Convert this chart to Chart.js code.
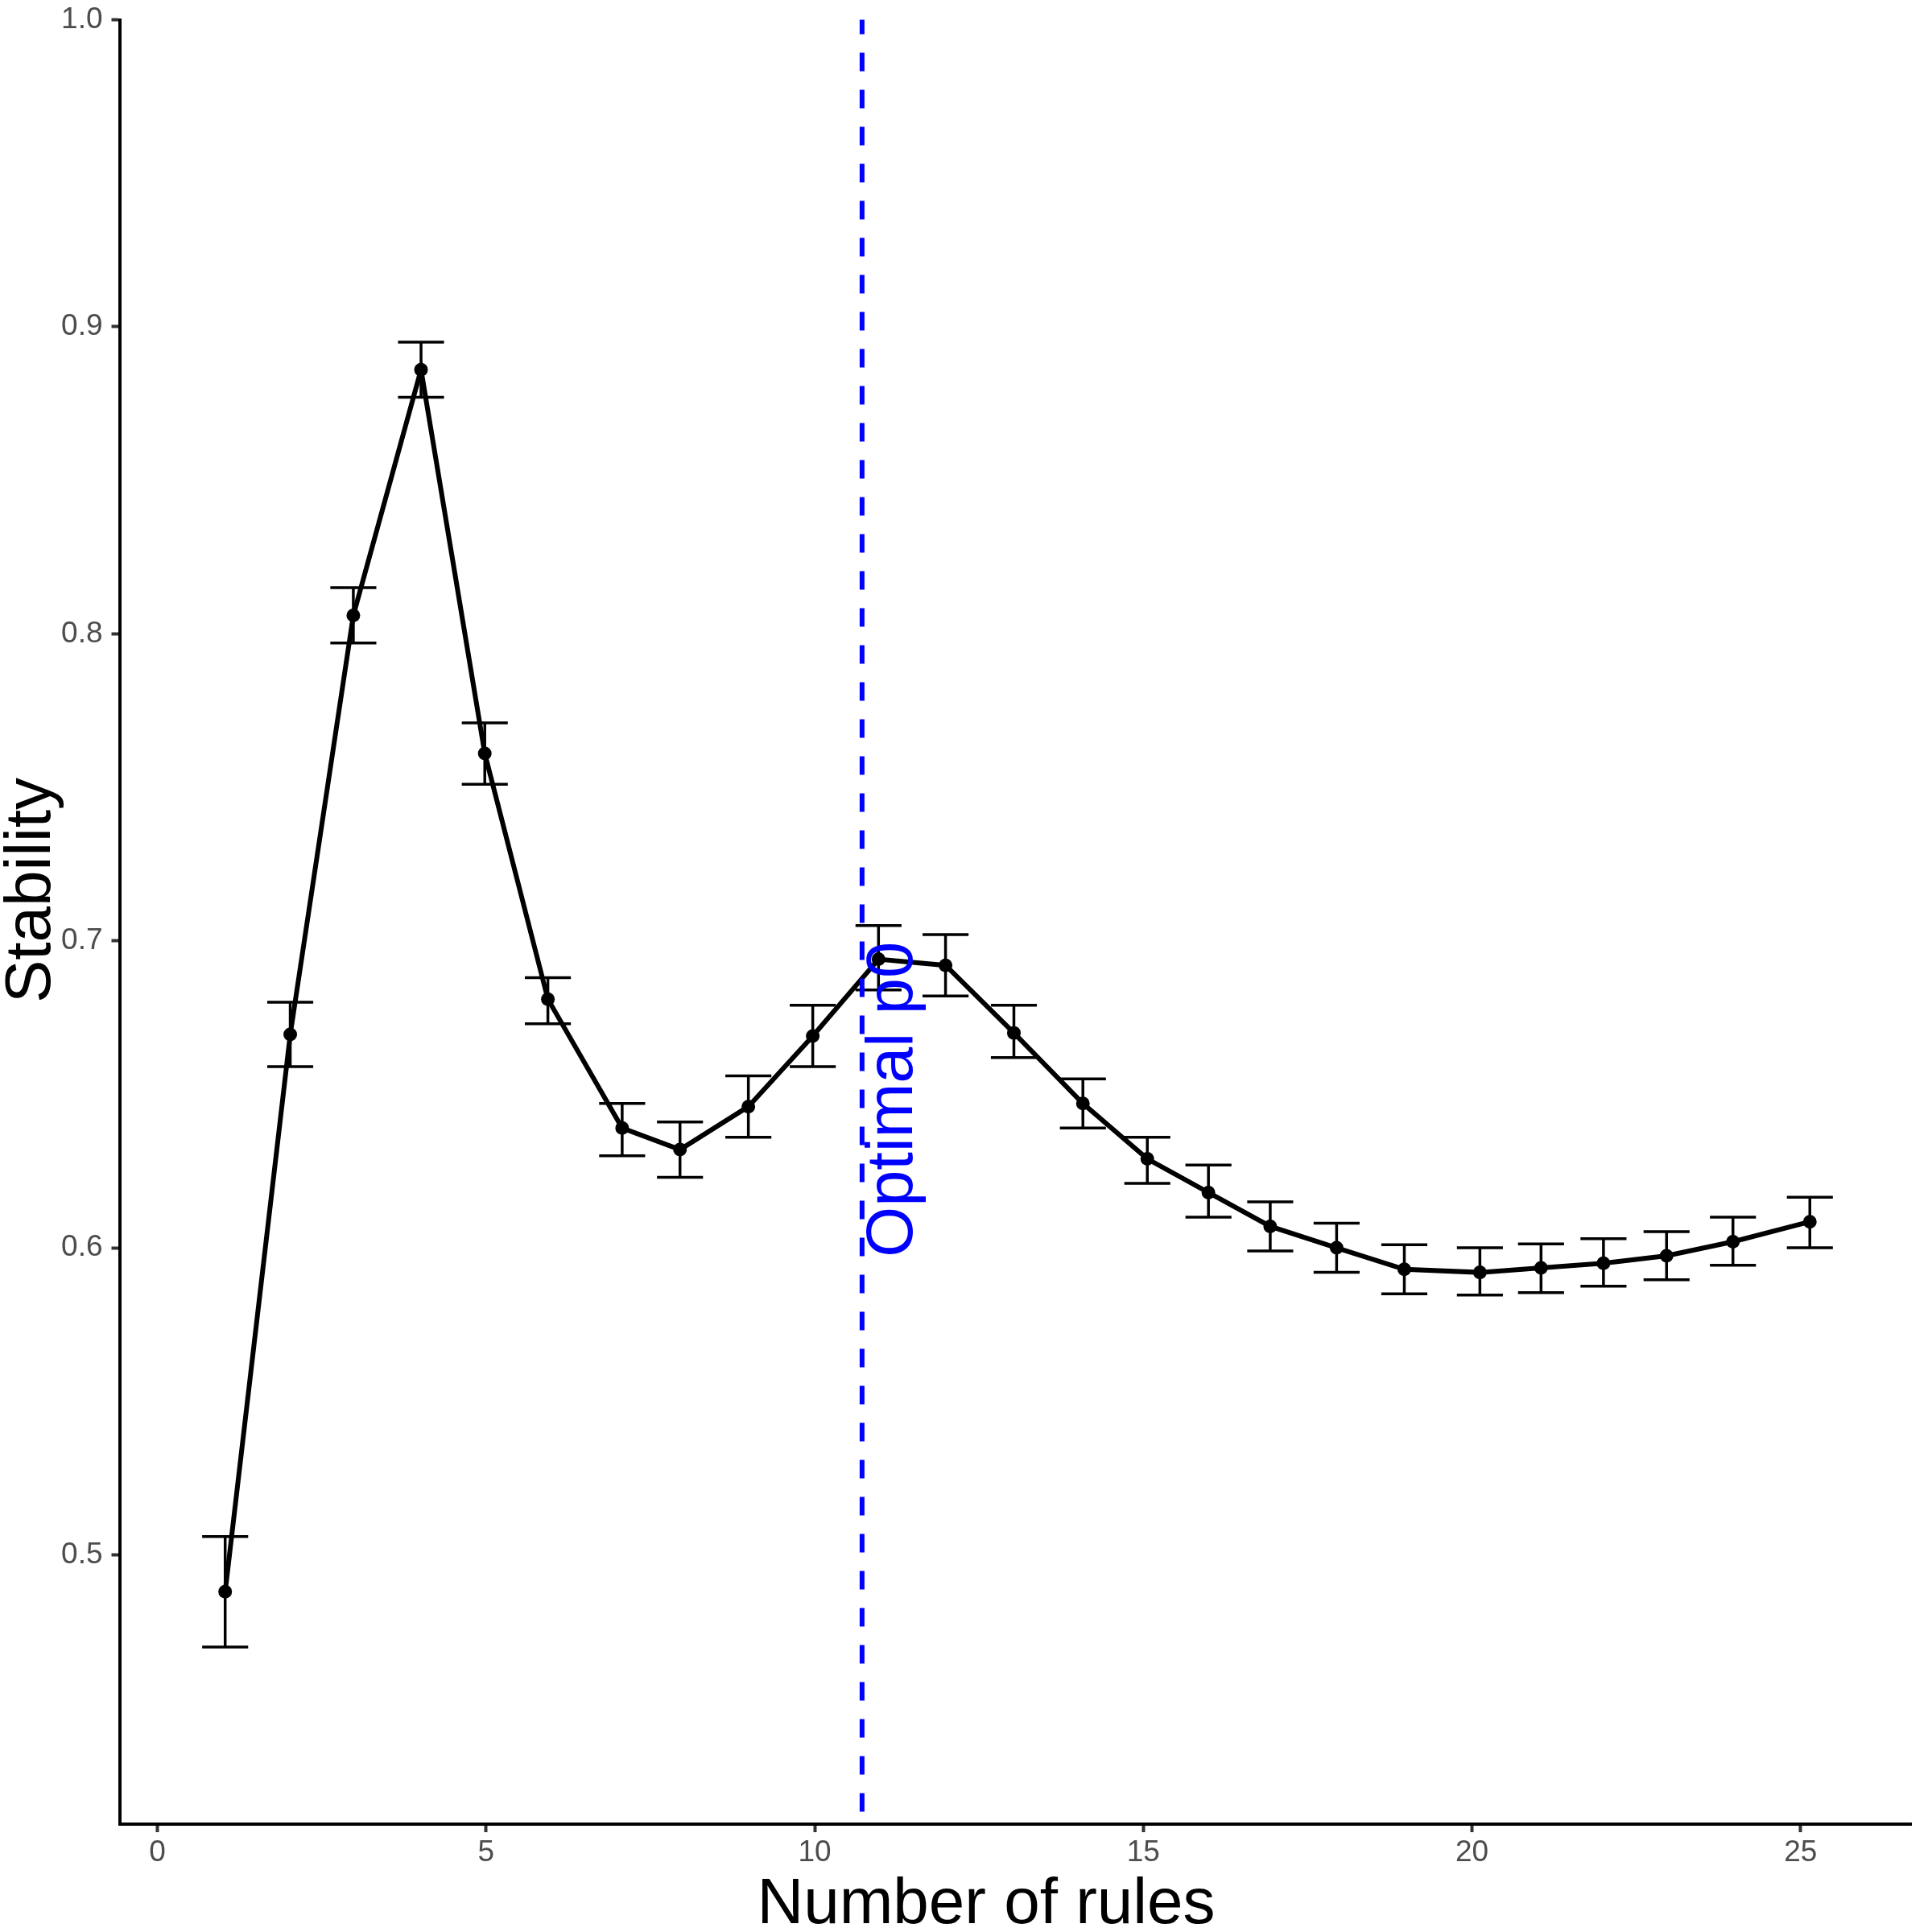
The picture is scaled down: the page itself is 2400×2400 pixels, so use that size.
<!DOCTYPE html>
<html>
<head>
<meta charset="utf-8">
<script src="https://cdn.jsdelivr.net/npm/chart.js@4/dist/chart.umd.min.js"></script>
<style>
  html, body { margin: 0; padding: 0; background: #fff; }
  canvas { display: block; }
</style>
</head>
<body>
<canvas id="chart" width="2400" height="2400"></canvas>
<script>
// values
const rules = [1.03, 2.02, 2.98, 4.01, 4.98, 5.94, 7.07, 7.95, 8.99, 9.97, 10.97, 11.99, 13.03,
  14.08, 15.06, 15.99, 16.93, 17.94, 18.97, 20.12, 21.05, 22.00, 22.96, 23.97, 25.14];
const stability = [0.488, 0.6695, 0.806, 0.886, 0.761, 0.681, 0.639, 0.632, 0.646, 0.669, 0.694, 0.692, 0.670,
  0.647, 0.629, 0.618, 0.607, 0.600, 0.593, 0.592, 0.5935, 0.595, 0.5974, 0.602, 0.6085];
const lower = [0.470, 0.659, 0.797, 0.877, 0.751, 0.673, 0.630, 0.623, 0.636, 0.659, 0.684, 0.682, 0.662,
  0.639, 0.621, 0.610, 0.599, 0.592, 0.585, 0.5846, 0.5854, 0.5875, 0.5896, 0.5943, 0.600];
const upper = [0.506, 0.680, 0.815, 0.895, 0.771, 0.688, 0.647, 0.641, 0.656, 0.679, 0.705, 0.702, 0.679,
  0.655, 0.636, 0.627, 0.615, 0.608, 0.601, 0.600, 0.6013, 0.603, 0.6053, 0.610, 0.6165];
const xTicks = [0, 5, 10, 15, 20, 25];
const yTicks = [0.5, 0.6, 0.7, 0.8, 0.9, 1.0];
const optimalRules = 10.72;
const optimalLabel = 'Optimal p0';

const FONT = '"Liberation Sans", Arial, sans-serif';
const capHalf = 0.35;

const errorBars = {
  id: 'errorBars',
  beforeDatasetsDraw(chart) {
    const { ctx, scales: { x, y } } = chart;
    ctx.save();
    ctx.strokeStyle = '#000';
    ctx.lineWidth = 3.5;
    rules.forEach((r, i) => {
      const px = x.getPixelForValue(r);
      const l = x.getPixelForValue(r - capHalf);
      const rr = x.getPixelForValue(r + capHalf);
      const top = y.getPixelForValue(upper[i]);
      const bot = y.getPixelForValue(lower[i]);
      ctx.beginPath();
      ctx.moveTo(px, top); ctx.lineTo(px, bot);
      ctx.moveTo(l, top); ctx.lineTo(rr, top);
      ctx.moveTo(l, bot); ctx.lineTo(rr, bot);
      ctx.stroke();
    });
    ctx.restore();
  }
};

const optimalLine = {
  id: 'optimalLine',
  afterDatasetsDraw(chart) {
    const { ctx, chartArea, scales: { x, y } } = chart;
    const px = x.getPixelForValue(optimalRules);
    ctx.save();
    ctx.strokeStyle = '#0000FF';
    ctx.lineWidth = 6;
    ctx.setLineDash([23, 23]);
    ctx.lineDashOffset = 5;
    ctx.beginPath();
    ctx.moveTo(px, chartArea.top);
    ctx.lineTo(px, chartArea.bottom);
    ctx.stroke();
    ctx.setLineDash([]);

    // rotated label
    ctx.translate(x.getPixelForValue(11.48), y.getPixelForValue(0.6483));
    ctx.rotate(-Math.PI / 2);
    ctx.fillStyle = '#0000FF';
    ctx.font = '81px ' + FONT;
    ctx.textAlign = 'center';
    ctx.textBaseline = 'alphabetic';
    ctx.fillText(optimalLabel, 0, 0);
    ctx.restore();
  }
};

const axisTitles = {
  id: 'axisTitles',
  afterDraw(chart) {
    const { ctx } = chart;
    ctx.save();
    ctx.fillStyle = '#000';
    ctx.font = '80px ' + FONT;
    ctx.textAlign = 'center';
    ctx.textBaseline = 'alphabetic';
    ctx.fillText('Number of rules', 1225, 2389);
    ctx.translate(62, 1106);
    ctx.rotate(-Math.PI / 2);
    ctx.fillText('Stability', 0, 0);
    ctx.restore();
  }
};

new Chart(document.getElementById('chart').getContext('2d'), {
  type: 'line',
  data: {
    datasets: [{
      data: rules.map((r, i) => ({ x: r, y: stability[i] })),
      borderColor: '#000',
      backgroundColor: '#000',
      borderWidth: 6,
      pointRadius: 8.5,
      pointBorderWidth: 0,
      pointBackgroundColor: '#000',
      tension: 0
    }]
  },
  options: {
    responsive: false,
    animation: false,
    devicePixelRatio: 1,
    layout: { padding: { top: 24.5, right: 26, left: 0, bottom: 0 } },
    plugins: {
      legend: { display: false },
      tooltip: { enabled: false }
    },
    scales: {
      x: {
        type: 'linear',
        min: -0.577,
        max: 26.68,
        afterFit: s => { s.height = 134; s.paddingLeft = 0; s.paddingRight = 0; },
        afterBuildTicks: s => { s.ticks = xTicks.map(v => ({ value: v })); },
        border: { display: true, color: '#000', width: 4 },
        grid: { drawOnChartArea: false, drawTicks: true, tickLength: 10, tickWidth: 4, tickColor: '#333333' },
        ticks: {
          color: '#4D4D4D',
          font: { family: FONT, size: 37 },
          padding: 4,
          maxRotation: 0,
          callback: v => String(v)
        }
      },
      y: {
        min: 0.4123,
        max: 1.0,
        afterFit: s => { s.width = 148.5; s.paddingTop = 0; s.paddingBottom = 0; },
        afterBuildTicks: s => { s.ticks = yTicks.map(v => ({ value: v })); },
        border: { display: true, color: '#000', width: 4 },
        grid: { drawOnChartArea: false, drawTicks: true, tickLength: 10, tickWidth: 4, tickColor: '#333333' },
        ticks: {
          color: '#4D4D4D',
          font: { family: FONT, size: 37 },
          padding: 11,
          callback: v => v.toFixed(1)
        }
      }
    }
  },
  plugins: [errorBars, optimalLine, axisTitles]
});
</script>
</body>
</html>
